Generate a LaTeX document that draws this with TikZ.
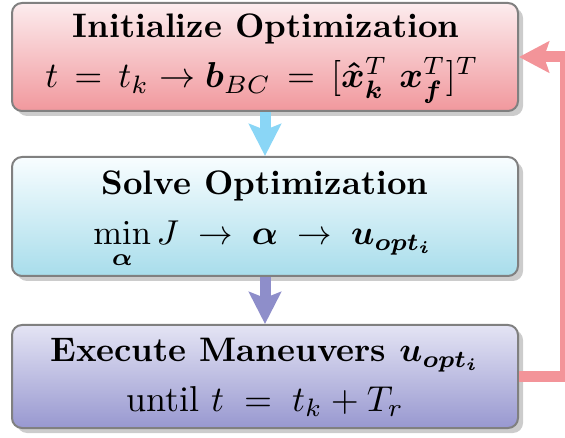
\documentclass[tikz,border=0pt]{standalone}
\usepackage{amsmath,bm}
\usetikzlibrary{arrows.meta,shadows}
\definecolor{topA}{RGB}{252,236,238}
\definecolor{topB}{RGB}{241,152,157}
\definecolor{midA}{RGB}{248,253,255}
\definecolor{midB}{RGB}{168,221,235}
\definecolor{botA}{RGB}{228,228,244}
\definecolor{botB}{RGB}{152,152,208}
\definecolor{arrBlue}{RGB}{138,214,246}
\definecolor{arrPurple}{RGB}{142,142,202}
\definecolor{fbPink}{RGB}{243,148,153}
\definecolor{edgeGray}{RGB}{128,128,128}
\tikzset{
  stagebox/.style={draw=edgeGray, line width=2pt, rounded corners=10pt,
    minimum width=506pt, inner sep=0pt,
    drop shadow={shadow xshift=5pt, shadow yshift=-5pt, fill=black!40, opacity=0.5}},
  basetext/.style={font=\fontsize{10}{12}\selectfont, inner sep=0pt, anchor=base},
  bigtext/.style={basetext, scale=3.4},
  bigmath/.style={basetext, scale=3.6},
  midmath/.style={basetext, scale=3.45},
  downarrow/.style={line width=11pt, -{Stealth[width=32pt,length=32pt,inset=6pt]}},
}
\begin{document}
\begin{tikzpicture}[x=1pt,y=-1pt]
\useasboundingbox (0,0) rectangle (565,438);
\node[stagebox, minimum height=108pt, top color=topA, bottom color=topB] (init) at (265,57) {};
\node[stagebox, minimum height=119pt, top color=midA, bottom color=midB] (solve) at (265,216.5) {};
\node[stagebox, minimum height=103pt, top color=botA, bottom color=botB] (exec) at (265,376.5) {};

\node[bigtext] (t1) at (266,38) {\bfseries Initialize Optimization};
\node[bigmath] (m1) at (262,88) {$t \,=\, t_k \rightarrow \bm{b}_{BC} \,=\, [\bm{\hat{x}}_{\bm{k}}^T\ \bm{x}_{\bm{f}}^T]^T$};
\node[bigtext] (t2) at (265,195) {\bfseries Solve Optimization};
\node[midmath] (m2) at (263,245) {$\displaystyle\min_{\bm{\alpha}} J \;\rightarrow\; \bm{\alpha} \;\rightarrow\; \bm{u}_{\bm{opt}_{\bm{i}}}$};
\node[bigtext] (t3) at (265,362) {\bfseries Execute Maneuvers $\bm{u}_{\bm{opt}_{\bm{i}}}$};
\node[bigmath] (m3) at (265,411) {until $t \;=\; t_k + T_r$};

\draw[downarrow, arrBlue] (init.south) -- (solve.north);
\draw[downarrow, arrPurple] (solve.south) -- (exec.north);

\coordinate (fb) at (565.5,0);
\draw[fbPink, line width=11pt, -{Stealth[width=31pt,length=30pt,inset=5pt]}]
  (exec.east) -- (exec.east -| fb) -- (init.east -| fb) -- (init.east);
\end{tikzpicture}
\end{document}
